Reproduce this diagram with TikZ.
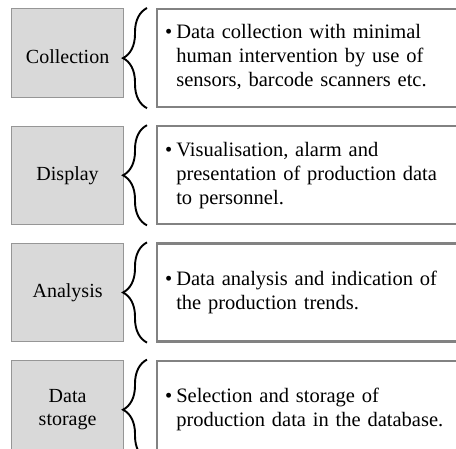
\documentclass[tikz,border=0pt]{standalone}
\usepackage{fontspec}
\setmainfont{Liberation Serif}
\usetikzlibrary{positioning,decorations.pathreplacing}
\definecolor{catfill}{RGB}{217,217,217}
\definecolor{catline}{RGB}{150,150,150}
\definecolor{descline}{RGB}{130,130,130}
\newcommand{\bulletlines}[1]{\begin{tabular}{@{}l@{\hspace{4pt}}l@{}}\textbullet & #1\end{tabular}}

\begin{document}
\begin{tikzpicture}[
  x=1pt,y=1pt,
  node distance=17pt and 32pt,
  cat/.style={draw=catline,fill=catfill,line width=0.8pt,minimum width=112pt,minimum height=98pt,align=center,inner sep=0pt,font=\fontsize{20}{23}\selectfont},
  desc/.style={draw=descline,fill=white,line width=2.2pt,minimum height=98pt,text width=290pt,inner xsep=8pt,align=left,font=\fontsize{20.5}{24}\selectfont},
  curly/.style={decorate,decoration={brace,amplitude=24pt},line width=1.9pt}
]
\useasboundingbox (0,0) rectangle (456,448);
\clip (0,0) rectangle (456,448);

\node[desc,anchor=north west] (d1) at (156,440) {\bulletlines{Data collection with minimal\\ & human intervention by use of\\ & sensors, barcode scanners etc.}};
\node[desc,below=of d1] (d2) {\bulletlines{Visualisation, alarm and\\ & presentation of production data\\ & to personnel.}};
\node[desc,below=of d2] (d3) {\bulletlines{Data analysis and indication of\\ & the production trends.}};
\node[desc,below=of d3] (d4) {\bulletlines{Selection and storage of\\ & production data in the database.}};

\node[cat,minimum height=89pt,text height=22pt,anchor=north east] (c1) at ([xshift=-32pt]d1.north west) {Collection};
\node[cat,left=of d2] (c2) {Display};
\node[cat,left=of d3] (c3) {Analysis};
\node[cat,left=of d4] (c4) {Data\\storage};

\draw[curly] ([xshift=-9pt]d1.south west) -- ([xshift=-9pt]d1.north west);
\draw[curly] ([xshift=-9pt]d2.south west) -- ([xshift=-9pt]d2.north west);
\draw[curly] ([xshift=-9pt]d3.south west) -- ([xshift=-9pt]d3.north west);
\draw[curly] ([xshift=-9pt]d4.south west) -- ([xshift=-9pt]d4.north west);
\end{tikzpicture}
\end{document}
